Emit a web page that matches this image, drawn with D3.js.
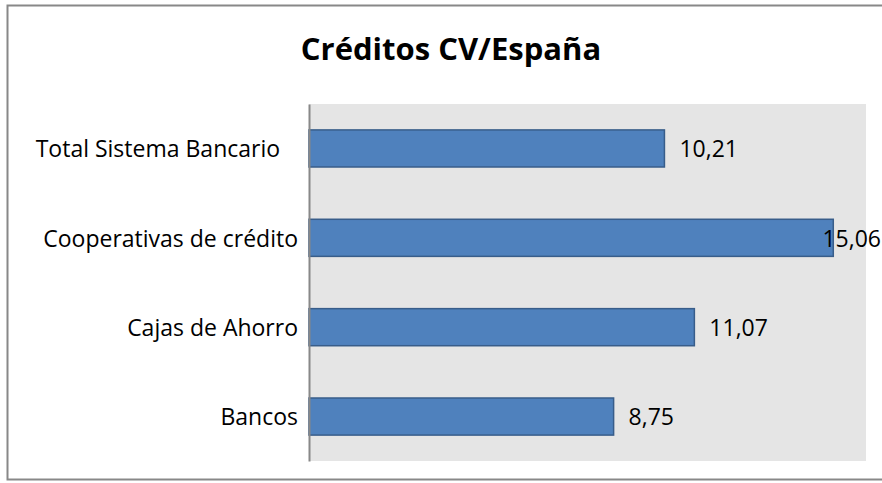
<!DOCTYPE html>
<html>
<head>
<meta charset="utf-8">
<script src="https://cdn.jsdelivr.net/npm/d3@7"></script>
<style>
	body { margin: 0; background: #fff; }
	svg { display: block; }
</style>
</head>
<body>
<svg id="chart"></svg>
<script>
// data
const categories = ['Total Sistema Bancario   ', 'Cooperativas de crédito', 'Cajas de Ahorro', 'Bancos'];
const values = [10.21, 15.06, 11.07, 8.75];
const valueLabels = ['10,21', '15,06', '11,07', '8,75'];
const title = 'Créditos CV/España';

const width = 882,
	height = 483;

const plot = { left: 309, right: 866, top: 104, bottom: 461 };

const chart = d3.select('#chart')
	.attr('width', width)
	.attr('height', height);

// outer frame
chart.append('rect')
	.attr('x', 7.5)
	.attr('y', 5.5)
	.attr('width', 900)
	.attr('height', 474)
	.attr('fill', '#fff')
	.attr('stroke', '#888')
	.attr('stroke-width', 2);

chart.append('text')
	.attr('x', 451)
	.attr('y', 60)
	.attr('text-anchor', 'middle')
	.style('font', 'bold 31px "Open Sans", sans-serif')
	.style('fill', '#000')
	.text(title);

const x = d3.scaleLinear()
	.domain([0, 16])
	.range([plot.left, plot.right]);

const y = d3.scaleBand()
	.domain(categories)
	.range([plot.top, plot.bottom])
	.paddingInner(0.585)
	.paddingOuter(0.29);

// plot area
chart.append('rect')
	.attr('x', plot.left)
	.attr('y', plot.top)
	.attr('width', plot.right - plot.left)
	.attr('height', plot.bottom - plot.top)
	.attr('fill', '#e5e5e5');

chart.selectAll('rect.bar')
	.data(values)
	.enter()
	.append('rect')
	.attr('class', 'bar')
	.attr('x', x(0))
	.attr('y', (d, i) => y(categories[i]))
	.attr('width', d => x(d) - x(0))
	.attr('height', y.bandwidth())
	.attr('fill', '#4f81bd')
	.attr('stroke', '#385d8a')
	.attr('stroke-width', 1.5);

// category axis
const yAxis = d3.axisLeft(y).tickSize(0).tickPadding(11);
const yg = chart.append('g')
	.attr('transform', `translate(${plot.left}, 0)`)
	.call(yAxis);
yg.select('.domain')
	.attr('stroke', '#888')
	.attr('stroke-width', 2);
yg.selectAll('text')
	.attr('dy', '0.38em')
	.style('font', '23px "Open Sans", sans-serif')
	.style('white-space', 'pre')
	.style('fill', '#000');

// value labels, pushed back inside the chart when they run past its edge
chart.selectAll('text.val')
	.data(values)
	.enter()
	.append('text')
	.attr('class', 'val')
	.attr('y', (d, i) => y(categories[i]) + y.bandwidth() / 2)
	.attr('dy', '0.38em')
	.style('font', '23px "Open Sans", sans-serif')
	.style('fill', '#000')
	.text((d, i) => valueLabels[i])
	.attr('x', function(d) {
		const len = this.getComputedTextLength();
		return Math.min(x(d) + 15, width - 1 - len);
	});
</script>
</body>
</html>
